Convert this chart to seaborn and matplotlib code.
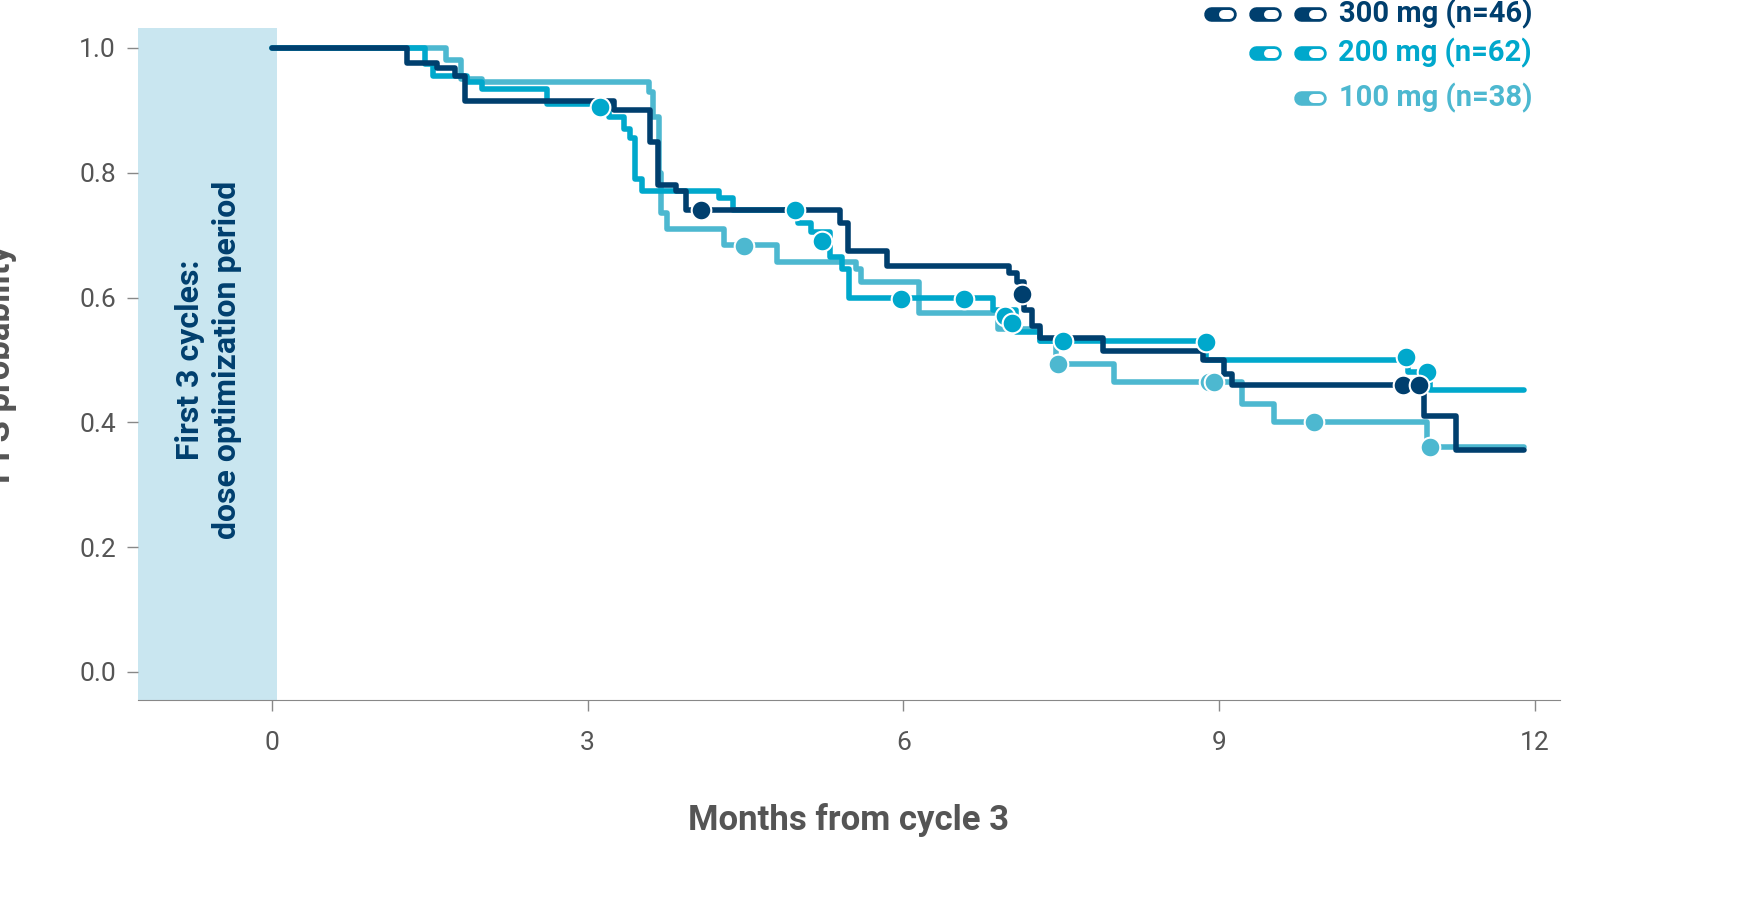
import numpy as np
import pandas as pd
import matplotlib
matplotlib.use("Agg")
import matplotlib.pyplot as plt
import seaborn as sns
from matplotlib.lines import Line2D
from matplotlib.patches import Rectangle

# ── Data ──────────────────────────────────────────────────────
t300 = [0, 1.28, 1.57, 1.74, 1.83, 3.25, 3.59, 3.67, 3.84, 3.93, 5.40, 5.47, 5.84, 7.00, 7.08,
        7.15, 7.22, 7.30, 7.90, 8.85, 9.05, 9.12, 10.95, 11.25, 11.90]
s300 = [1.0, 0.976, 0.968, 0.955, 0.915, 0.90, 0.85, 0.78, 0.77, 0.74, 0.72, 0.675, 0.65, 0.64, 0.625,
        0.58, 0.555, 0.535, 0.515, 0.50, 0.478, 0.46, 0.41, 0.355, 0.355]
c300_t = [4.08, 7.13, 10.75, 10.90]
c300_s = [0.74, 0.605, 0.46, 0.46]

t200 = [0, 1.45, 1.53, 1.85, 2.00, 2.61, 3.20, 3.35, 3.40, 3.45, 3.52, 4.25, 4.38, 5.00, 5.12,
        5.30, 5.42, 5.48, 6.85, 7.07, 7.30, 8.88, 10.80, 11.00, 11.90]
s200 = [1.0, 0.975, 0.955, 0.945, 0.935, 0.91, 0.89, 0.87, 0.855, 0.79, 0.77, 0.76, 0.74, 0.72, 0.705,
        0.665, 0.645, 0.60, 0.58, 0.545, 0.53, 0.50, 0.48, 0.452, 0.452]
c200_t = [3.12, 4.97, 5.23, 5.98, 6.58, 6.97, 7.03, 7.52, 8.88, 10.78, 10.98]
c200_s = [0.905, 0.74, 0.69, 0.597, 0.597, 0.57, 0.56, 0.53, 0.528, 0.505, 0.48]

t100 = [0, 1.65, 1.80, 2.00, 3.58, 3.62, 3.68, 3.70, 3.75, 4.30, 4.80, 5.55, 5.60, 6.15,
        6.90, 7.30, 7.45, 8.00, 9.22, 9.52, 10.98, 11.90]
s100 = [1.0, 0.98, 0.95, 0.945, 0.93, 0.89, 0.80, 0.735, 0.71, 0.685, 0.657, 0.645, 0.625, 0.575,
        0.55, 0.53, 0.493, 0.465, 0.43, 0.40, 0.36, 0.36]
c100_t = [4.49, 7.47, 8.90, 8.95, 9.90, 11.00]
c100_s = [0.683, 0.493, 0.465, 0.465, 0.40, 0.36]

labels = ["300 mg (n=46)", "200 mg (n=62)", "100 mg (n=38)"]
colors = ["#003f6e", "#00a8cc", "#4db8d0"]
x_ticks = [0, 3, 6, 9, 12]
y_ticks = [0.0, 0.2, 0.4, 0.6, 0.8, 1.0]

sns.set_style("white")
plt.rcParams["font.family"] = ["Liberation Sans Narrow", "Roboto", "DejaVu Sans"]

fig = plt.figure(figsize=(17.6, 9.09), dpi=100)
ax = fig.add_axes([138 / 1760, 1 - 700 / 909, (1560 - 138) / 1760, (700 - 28) / 909])
ax.set_xlim(-1.273, 12.24)
ax.set_ylim(-0.045, 1.032)

ax.add_patch(Rectangle((-1.273, -0.045), 1.323, 1.077, color="#c9e6f0", zorder=0, lw=0))
ax.text(-0.6, 0.5, "First 3 cycles:\ndose optimization period", rotation=90, ha="center",
        va="center", fontsize=23, fontweight="bold", color="#003f6e", linespacing=1.3)

curves = [(t300, s300, c300_t, c300_s), (t200, s200, c200_t, c200_s), (t100, s100, c100_t, c100_s)]
for (t, s, ct, cs), col in zip(reversed(curves), reversed(colors)):
    df = pd.DataFrame({"t": t, "s": s})
    sns.lineplot(data=df, x="t", y="s", drawstyle="steps-post", color=col, lw=4, ax=ax)
for (t, s, ct, cs), col in zip(reversed(curves), reversed(colors)):
    sns.scatterplot(x=ct, y=cs, color=col, s=200, edgecolor="white", linewidth=1.5, ax=ax, zorder=5)

gray = "#555555"
ax.set_xticks(x_ticks)
ax.set_yticks(y_ticks)
ax.set_xticklabels([str(v) for v in x_ticks], fontsize=19, color=gray)
ax.set_yticklabels([f"{v:.1f}" for v in y_ticks], fontsize=19, color=gray)
ax.tick_params(axis="both", length=8, width=1, color="#888888", left=True, bottom=True, pad=8)
ax.tick_params(axis="x", pad=14)
for side in ["top", "right", "left"]:
    ax.spines[side].set_visible(False)
ax.spines["bottom"].set_color("#888888")
ax.set_xlabel("Months from cycle 3", fontsize=25, fontweight="bold", color=gray, labelpad=35)
ax.set_ylabel("PFS probability", fontsize=25, fontweight="bold", color=gray)
ax.yaxis.set_label_coords(-0.085, 0.5)


# legend with pill icons, drawn as round-capped lines in figure pixels
def pill(cx, cy, col):
    y = 1 - cy / 909
    x0, x1, xm = (cx - 9) / 1760, (cx + 9) / 1760, cx / 1760
    fig.add_artist(Line2D([x0, x1], [y, y], lw=10.5, color=col, solid_capstyle="round",
                          transform=fig.transFigure))
    fig.add_artist(Line2D([xm + 3 / 1760, x1], [y, y], lw=6.5, color="white",
                          solid_capstyle="round", transform=fig.transFigure))


leg_y = [14, 53, 98]
pill_x = [[1220, 1265, 1310], [1265, 1310], [1310]]
for lab, col, y, xs in zip(labels, colors, leg_y, pill_x):
    for px in xs:
        pill(px, y, col)
    fig.text(1532 / 1760, 1 - y / 909, lab, ha="right", va="center", fontsize=21,
             fontweight="bold", color=col)

fig.savefig("out.png", dpi=100)
